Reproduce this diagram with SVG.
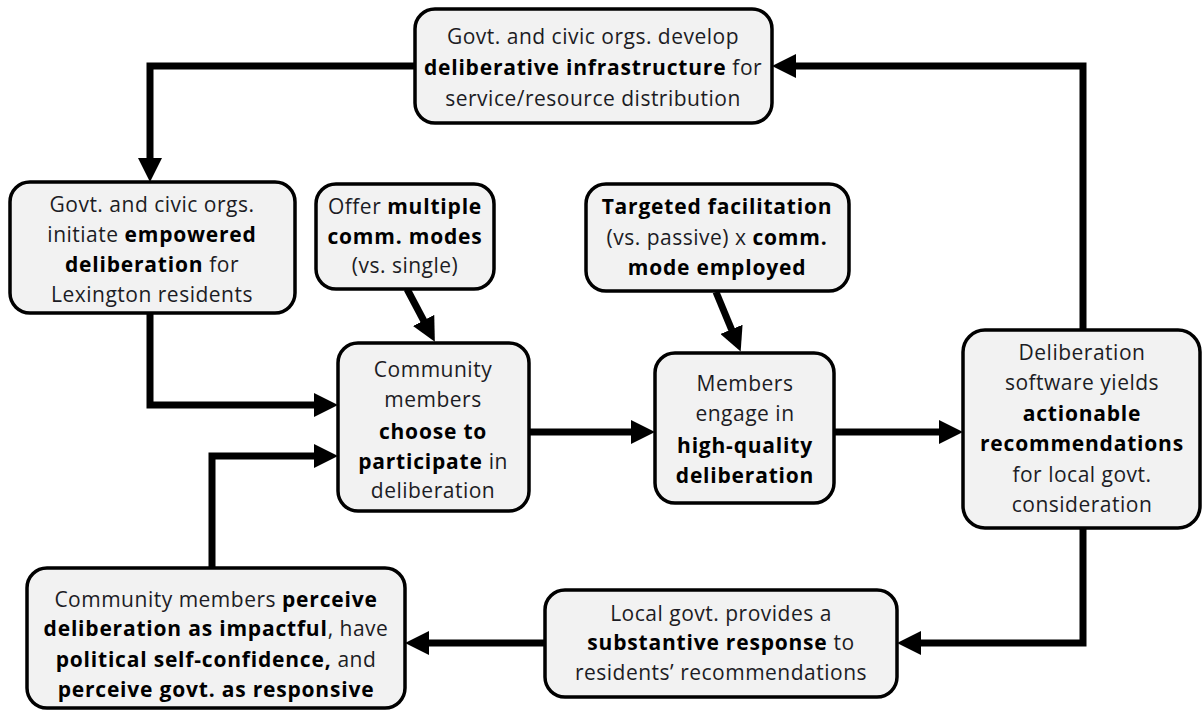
<svg xmlns="http://www.w3.org/2000/svg" width="1203" height="719" viewBox="0 0 1203 719">
<style>
.box{fill:#f2f2f2;stroke:#000;stroke-width:3.5}
.t{font-family:"Open Sans",Lato,"Liberation Sans",sans-serif;font-size:21px;letter-spacing:0.5px;fill:#1c1c24;text-anchor:middle}
.b{font-weight:bold;letter-spacing:0.8px;fill:#000}
.c{fill:none;stroke:#000;stroke-width:7}
</style>
<defs>
<marker id="ah" viewBox="0 0 24 24" markerWidth="24" markerHeight="24" refX="4" refY="12" orient="auto" markerUnits="userSpaceOnUse">
<path d="M0,0 L24,12 L0,24 z" fill="#000"/>
</marker>
</defs>
<rect width="1203" height="719" fill="#fff"/>
<g id="connectors">
<path class="c" d="M415,66 H150 V162" marker-end="url(#ah)"/>
<path class="c" d="M1083,330 V66 H792" marker-end="url(#ah)"/>
<path class="c" d="M150,313 V405 H318" marker-end="url(#ah)"/>
<path class="c" d="M212,568 V456 H318" marker-end="url(#ah)"/>
<path class="c" d="M407,289 L425.5,324" marker-end="url(#ah)"/>
<path class="c" d="M716,292 L733,333" marker-end="url(#ah)"/>
<path class="c" d="M529,432 H635" marker-end="url(#ah)"/>
<path class="c" d="M834,432 H943" marker-end="url(#ah)"/>
<path class="c" d="M1083,528 V643 H917" marker-end="url(#ah)"/>
<path class="c" d="M545,643 H425" marker-end="url(#ah)"/>
</g>
<g id="top">
<rect class="box" x="415" y="9" width="357" height="114" rx="20"/>
<text class="t" x="593" y="44">Govt. and civic orgs. develop</text>
<text class="t" x="593" y="75"><tspan class="b">deliberative infrastructure</tspan> for</text>
<text class="t" x="593" y="106">service/resource distribution</text>
</g>
<g id="initiate">
<rect class="box" x="10" y="182" width="285" height="131" rx="20"/>
<text class="t" x="152" y="212">Govt. and civic orgs.</text>
<text class="t" x="152" y="242">initiate <tspan class="b">empowered</tspan></text>
<text class="t" x="152" y="272"><tspan class="b">deliberation</tspan> for</text>
<text class="t" x="152" y="302">Lexington residents</text>
</g>
<g id="offer">
<rect class="box" x="316" y="184" width="178" height="105" rx="20"/>
<text class="t" x="405" y="214">Offer <tspan class="b">multiple</tspan></text>
<text class="t" x="405" y="244"><tspan class="b">comm. modes</tspan></text>
<text class="t" x="405" y="273">(vs. single)</text>
</g>
<g id="targeted">
<rect class="box" x="586" y="184" width="263" height="107" rx="20"/>
<text class="t" x="717" y="214"><tspan class="b">Targeted facilitation</tspan></text>
<text class="t" x="717" y="245">(vs. passive) x <tspan class="b">comm.</tspan></text>
<text class="t" x="717" y="275"><tspan class="b">mode employed</tspan></text>
</g>
<g id="choose">
<rect class="box" x="338" y="343" width="191" height="168" rx="20"/>
<text class="t" x="433" y="377">Community</text>
<text class="t" x="433" y="407">members</text>
<text class="t" x="433" y="439"><tspan class="b">choose to</tspan></text>
<text class="t" x="433" y="469"><tspan class="b">participate</tspan> in</text>
<text class="t" x="433" y="498">deliberation</text>
</g>
<g id="engage">
<rect class="box" x="655" y="353" width="179" height="150" rx="20"/>
<text class="t" x="745" y="391">Members</text>
<text class="t" x="745" y="421">engage in</text>
<text class="t" x="745" y="453"><tspan class="b">high-quality</tspan></text>
<text class="t" x="745" y="483"><tspan class="b">deliberation</tspan></text>
</g>
<g id="software">
<rect class="box" x="963" y="330" width="237" height="198" rx="22"/>
<text class="t" x="1082" y="360">Deliberation</text>
<text class="t" x="1082" y="390">software yields</text>
<text class="t" x="1082" y="421"><tspan class="b">actionable</tspan></text>
<text class="t" x="1082" y="451"><tspan class="b">recommendations</tspan></text>
<text class="t" x="1082" y="482">for local govt.</text>
<text class="t" x="1082" y="512">consideration</text>
</g>
<g id="response">
<rect class="box" x="545" y="590" width="352" height="107" rx="20"/>
<text class="t" x="721" y="621">Local govt. provides a</text>
<text class="t" x="721" y="650"><tspan class="b">substantive response</tspan> to</text>
<text class="t" x="721" y="680">residents’ recommendations</text>
</g>
<g id="perceive">
<rect class="box" x="27" y="568" width="378" height="140" rx="20"/>
<text class="t" x="216" y="607">Community members <tspan class="b">perceive</tspan></text>
<text class="t" x="216" y="636"><tspan class="b">deliberation as impactful</tspan>, have</text>
<text class="t" x="216" y="667"><tspan class="b">political self-confidence,</tspan> and</text>
<text class="t" x="216" y="697"><tspan class="b">perceive govt. as responsive</tspan></text>
</g>
</svg>
